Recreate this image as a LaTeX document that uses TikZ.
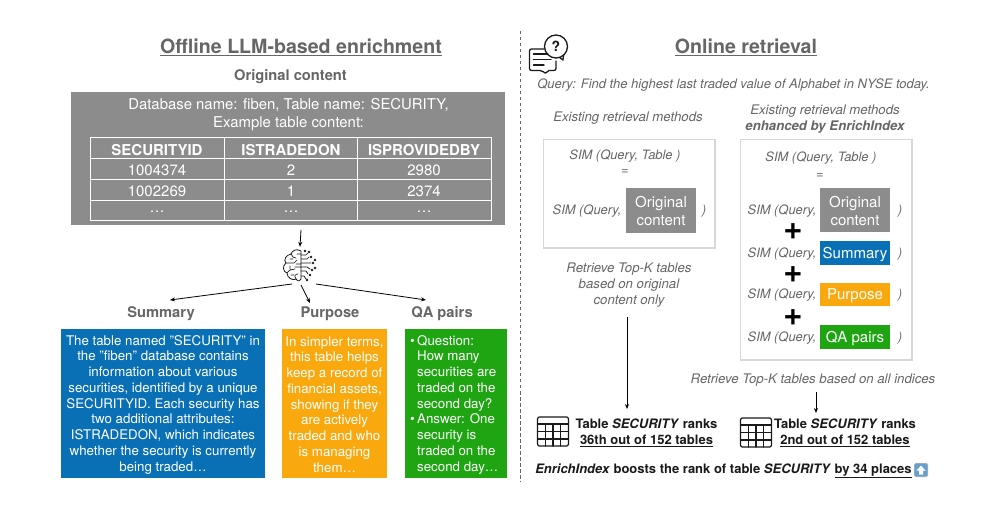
\documentclass[tikz,border=0pt]{standalone}
\usepackage{fontspec}
\setmainfont{TeX Gyre Heros}
\usetikzlibrary{arrows.meta}
\definecolor{gbox}{HTML}{8C8C8C}
\definecolor{tgray}{HTML}{666666}
\definecolor{ttl}{HTML}{666666}
\definecolor{bluebox}{HTML}{0A70B5}
\definecolor{orangebox}{HTML}{F9A80E}
\definecolor{greenbox}{HTML}{1FA512}
\definecolor{frameg}{HTML}{D4D8D8}
\definecolor{ink}{HTML}{1A1A1A}
\tikzset{
 x=1pt,y=-1pt,
 ttlnode/.style={font=\fontsize{19.6}{22}\selectfont\bfseries,text=ttl,inner sep=0},
 subttl/.style={font=\fontsize{14.7}{17}\selectfont\bfseries,text=tgray,inner sep=0},
 colbox/.style={fill=#1,inner sep=0,text=white,align=center},
 para/.style={inner sep=0,text=white,font=\fontsize{13.3}{15.75}\selectfont},
 ital/.style={font=\fontsize{13.2}{16}\selectfont\itshape,text=tgray,inner sep=0,align=center},
 simn/.style={font=\fontsize{12.9}{15}\selectfont\itshape,text=tgray,inner sep=0},
 cell/.style={font=\fontsize{15}{17}\selectfont,text=white,inner sep=0},
 hcell/.style={font=\fontsize{15}{17}\selectfont\bfseries,text=white,inner sep=0},
 plusn/.style={font=\fontsize{33}{33}\selectfont\bfseries,text=black,inner sep=0},
 rank/.style={font=\fontsize{13}{16}\selectfont\bfseries,text=ink,inner sep=0,align=center},
 boxt/.style={font=\fontsize{15}{18}\selectfont,minimum width=70pt},
 oneline/.style={text height=11pt,text depth=0pt},
 conn/.style={draw=black,line width=0.8pt,-{Stealth[length=5pt,width=4pt]}},
 icon/.style={draw=ink,line width=0.9pt,line cap=round,line join=round},
}
\newcommand{\tableicon}[2]{%
 \begin{scope}[shift={(#1,#2)}]
 \draw[icon,line width=1.1pt,rounded corners=1.5pt] (0,0) rectangle (31,29);
 \draw[icon,line width=1.1pt] (0,7)--(31,7) (0,14.5)--(31,14.5) (0,22)--(31,22) (8,7)--(8,29) (15.5,7)--(15.5,29) (23,7)--(23,29);
 \end{scope}}
\begin{document}
\begin{tikzpicture}
\useasboundingbox (0,0) rectangle (989,513);
\fill[white] (0,0) rectangle (989,513);
% left titles
\node[ttlnode] (t1) at (301,47.5) {\underline{Offline LLM-based enrichment}};
\node[subttl] (t2) at (290.5,76.5) {Original content};
% grey box
\fill[gbox] (71,92) rectangle (505,225);
\coordinate (gb) at (301,230);
\node[cell,align=center,font=\fontsize{14.9}{18}\selectfont] (dbn) at (288.5,115) {Database name: fiben, Table name: SECURITY,\\Example table content:};
\draw[white,line width=0.9pt] (90.5,137.5) rectangle (491.5,220);
\draw[white,line width=0.8pt] (90.5,158.5)--(491.5,158.5);
\draw[white,line width=0.4pt] (90.5,179)--(491.5,179) (90.5,200)--(491.5,200) (224,137.5)--(224,220) (357,137.5)--(357,220);
\node[hcell] (h1) at (157,150) {SECURITYID};
\node[hcell] (h2) at (291,150) {ISTRADEDON};
\node[hcell] (h3) at (424,150) {ISPROVIDEDBY};
\node[cell] (c11) at (157,170.5) {1004374};
\node[cell] (c12) at (291,170.5) {2};
\node[cell] (c13) at (424,170.5) {2980};
\node[cell] (c21) at (157,191) {1002269};
\node[cell] (c22) at (291,191) {1};
\node[cell] (c23) at (424,191) {2374};
\node[cell] (c31) at (157,212) {\ldots};
\node[cell] (c32) at (291,212) {\ldots};
\node[cell] (c33) at (424,212) {\ldots};
% brain
\node[inner sep=0,minimum width=32pt,minimum height=34pt] (brainn) at (300,264) {};
\begin{scope}[shift={(300,266)}]
\draw[icon,line width=0.8pt] (1,-15) .. controls (-4,-18) and (-8,-15) .. (-9,-12) .. controls (-14,-11) and (-17,-6) .. (-14,-3) .. controls (-18,0) and (-17,6) .. (-13,7) .. controls (-13,12) and (-7,15) .. (-4,13) .. controls (-2,16) and (1,15) .. (1,13) -- (1,-15);
\draw[icon,line width=0.7pt] (-9,-12) .. controls (-8,-9) and (-6,-8) .. (-4,-8) (-14,-3) -- (-6,-3) -- (-3,-6) (-13,7) .. controls (-11,4) and (-8,3) .. (-5,3) (-4,13) .. controls (-6,10) and (-5,8) .. (-2,8) (-10,-7)--(-7,-7) (-10,0)--(-10,3) (-5,1)--(1,1) (-4,-2)--(1,-2) (-9,9)--(-6,9) (-3,-12)--(1,-12);
\draw[icon,line width=0.7pt] (1,-11)--(6,-11)--(8,-13) (1,-7)--(7,-7)--(9,-9) (1,-3)--(11,-3) (1,1)--(7,1)--(10,3) (1,5)--(6,5)--(8,8) (1,10)--(4,10)--(6,13);
\foreach \a/\b in {9/-14,11/-9,13/-3,15/2,12/4,10/9,7/14,5/-15,15/-6}{\fill[ink] (\a,\b) circle (1.3pt);}
\end{scope}
\draw[conn] (gb) -- (brainn.north);
% section labels
\node[subttl] (s) at (161,314) {Summary};
\node[subttl] (p) at (330,314) {Purpose};
\node[subttl] (q) at (442,314) {QA pairs};
\coordinate (bl) at (292,284);
\coordinate (bm) at (301,285);
\coordinate (br) at (316,284);
\coordinate (se) at (170,300);
\coordinate (pe) at (310,303);
\coordinate (qe) at (426,300);
\draw[conn] (bl) -- (se);
\draw[conn] (bm) -- (pe);
\draw[conn] (br) -- (qe);
% colored boxes
\fill[bluebox] (61,329) rectangle (265,478);
\fill[orangebox] (282,329) rectangle (387,478);
\fill[greenbox] (405,329) rectangle (507,478);
\node[para,align=center] (sumt) at (163,404.5) {The table named "SECURITY" in\\the "fiben" database contains\\information about various\\securities, identified by a unique\\SECURITYID. Each security has\\two additional attributes:\\ISTRADEDON, which indicates\\whether the security is currently\\being traded\ldots};
\node[para,align=center] (purt) at (334.5,404.5) {In simpler terms,\\this table helps\\keep a record of\\financial assets,\\showing if they\\are actively\\traded and who\\is managing\\them\ldots};
\node[para,align=left,anchor=west] (qat) at (417,404.5) {\llap{\textbullet\hspace{2.5pt}}Question:\\How many\\securities are\\traded on the\\second day?\\\llap{\textbullet\hspace{2.5pt}}Answer: One\\security is\\traded on the\\second day\ldots};
% divider
\draw[tgray,line width=0.9pt,dash pattern=on 3.5pt off 2.5pt] (520,31) -- (520,482);
% chat icon
\begin{scope}[shift={(515,25)}]
\draw[icon,line width=1.3pt,rounded corners=2pt] (29,24) -- (14.5,24) -- (14.5,45.5) -- (27,45.5) -- (31,49) -- (32,45.5) -- (41,45.5) -- (41,36);
\draw[icon,line width=1.3pt] (18.5,29)--(33,29) (18.5,34.5)--(36,34.5) (18.5,40)--(29,40);
\draw[icon,line width=1.3pt] (41,21.5) circle (11.5);
\draw[icon,line width=1.3pt] (44.5,32.5) -- (48,35) -- (48.5,30);
\node[inner sep=0,font=\fontsize{14}{14}\selectfont\bfseries,text=ink] (qm) at (41,21.5) {?};
\end{scope}
% right titles
\node[ttlnode] (t3) at (746,47.5) {\underline{Online retrieval}};
\node[ital,font=\fontsize{13}{15}\selectfont\itshape] (qry) at (733.5,85) {Query: Find the highest last traded value of Alphabet in NYSE today.};
\node[ital] (e1) at (628,118) {Existing retrieval methods};
\node[ital] (e2) at (825,119.5) {Existing retrieval methods\\\textbf{\textcolor{ttl}{enhanced by EnrichIndex}}};
% frames
\draw[frameg,line width=1.8pt] (543.5,139.5) rectangle (715,248);
\draw[frameg,line width=1.8pt] (740.5,139.5) rectangle (912,360);
\node[simn] (l1) at (625,156) {SIM (Query, Table )};
\node[simn] (l2) at (625,172) {=};
\node[simn] (l3) at (587,211) {SIM (Query,};
\node[colbox=gbox,boxt,minimum height=45pt] (lo) at (661,210.5) {\rule{0pt}{13pt}Original\\content};
\node[simn] (l4) at (704,211) {)};
\node[simn] (r1) at (821,158) {SIM (Query, Table )};
\node[simn] (r2) at (820,176) {=};
\node[colbox=gbox,boxt,minimum height=44pt] (ro) at (855,210) {\rule{0pt}{13pt}Original\\content};
\node[colbox=bluebox,boxt,oneline,minimum height=24pt] (rs) at (855,253) {Summary};
\node[colbox=orangebox,boxt,oneline,minimum height=23pt] (rp) at (855,294.5) {Purpose};
\node[colbox=greenbox,boxt,oneline,minimum height=24pt] (rq) at (855,337) {QA pairs};
\foreach \n/\y in {a/211,b/254,c/295,d/338}{
 \node[simn] (sim\n) at (782,\y) {SIM (Query,};
 \node[simn] (par\n) at (900,\y) {)};
}
\node[plusn] (p1) at (793,232) {+};
\node[plusn] (p2) at (793,275) {+};
\node[plusn] (p3) at (793,318) {+};
\node[ital] (rt1) at (629,285) {Retrieve Top-K tables\\based on original\\content only};
\node[ital] (rt2) at (813,380) {Retrieve Top-K tables based on all indices};
\coordinate (a1s) at (627,317);
\coordinate (a1e) at (627,409);
\coordinate (a2s) at (816,392);
\coordinate (a2e) at (816,413);
\draw[conn] (a1s) -- (a1e);
\draw[conn] (a2s) -- (a2e);
% results
\tableicon{537.5}{417}
\node[rank] (r1t) at (646.5,433) {Table \textit{SECURITY} ranks\\\underline{36th out of 152 tables}};
\tableicon{740.5}{418}
\node[rank] (r2t) at (845,433) {Table \textit{SECURITY} ranks\\\underline{2nd out of 152 tables}};
\node[rank] (bst) at (723.5,471) {\textit{EnrichIndex} boosts the rank of table \textit{SECURITY} \underline{by 34 places}};
\begin{scope}[shift={(914,463)}]
\fill[rounded corners=1.5pt,fill=gray!60] (0,0) rectangle (14,14);
\fill[rounded corners=1.5pt,fill={rgb,255:red,100;green,160;blue,205}] (0.7,0.7) rectangle (13.3,13.3);
\fill[white] (7,2.5)--(11.5,7.5)--(9,7.5)--(9,11.5)--(5,11.5)--(5,7.5)--(2.5,7.5)--cycle;
\end{scope}
\end{tikzpicture}
\end{document}
